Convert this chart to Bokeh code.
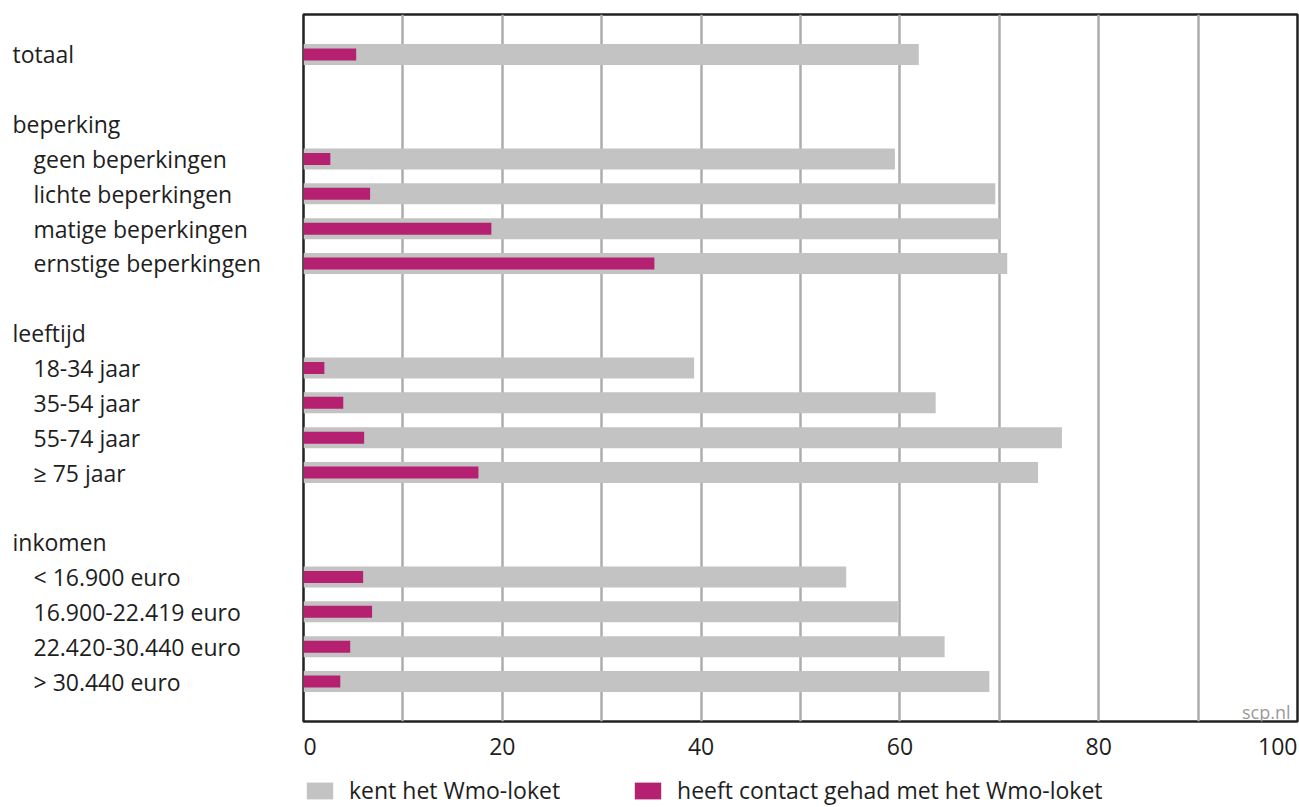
from bokeh.plotting import figure
from bokeh.models import (ColumnDataSource, Range1d, Grid, FixedTicker, Label,
                          Legend, LegendItem)
from bokeh.layouts import column, row
from bokeh.core.properties import value
from bokeh.embed import file_html
from bokeh.resources import INLINE

# ---------------- data ----------------
total_label = "totaal"
total_kent = 61.9
total_contact = 5.3

group_names = ["beperking", "leeftijd", "inkomen"]

beperking_cats = ["geen beperkingen", "lichte beperkingen", "matige beperkingen", "ernstige beperkingen"]
beperking_kent = [59.5, 69.6, 70.1, 70.8]
beperking_contact = [2.7, 6.7, 18.9, 35.3]

leeftijd_cats = ["18-34 jaar", "35-54 jaar", "55-74 jaar", "\u2265 75 jaar"]
leeftijd_kent = [39.3, 63.6, 76.3, 73.9]
leeftijd_contact = [2.1, 4.0, 6.1, 17.6]

inkomen_cats = ["< 16.900 euro", "16.900-22.419 euro", "22.420-30.440 euro", "> 30.440 euro"]
inkomen_kent = [54.6, 59.8, 64.5, 69.0]
inkomen_contact = [6.0, 6.9, 4.7, 3.7]

series_names = ["kent het Wmo-loket", "heeft contact gehad met het Wmo-loket"]
x_ticks = [0, 20, 40, 60, 80, 100]
grid_ticks = [10, 20, 30, 40, 50, 60, 70, 80, 90]
source_note = "scp.nl"

# ---------------- build rows ----------------
groups = [
    (beperking_cats, beperking_kent, beperking_contact),
    (leeftijd_cats, leeftijd_kent, leeftijd_contact),
    (inkomen_cats, inkomen_kent, inkomen_contact),
]

lab_text, lab_y, lab_level = [], [], []
bar_y, bar_kent, bar_contact = [], [], []

i = 0
lab_text.append(total_label); lab_y.append(i); lab_level.append(0)
bar_y.append(i); bar_kent.append(total_kent); bar_contact.append(total_contact)
i += 2
for gname, (cats, kent, contact) in zip(group_names, groups):
    lab_text.append(gname); lab_y.append(i); lab_level.append(0)
    i += 1
    for c, k, ct in zip(cats, kent, contact):
        lab_text.append(c); lab_y.append(i); lab_level.append(1)
        bar_y.append(i); bar_kent.append(k); bar_contact.append(ct)
        i += 1
    i += 1
n_rows = i - 1

GRAY = "#c2c3c2"
MAGENTA = "#b52070"
TEXT = "#1e1e1e"
FONT = "Open Sans"
FS = "23px"

pad = 1.148
y_range = Range1d(n_rows - 1 + pad, -pad)
x_range = Range1d(0, 100)

# ---------------- main plot ----------------
p = figure(width=999, height=723, x_range=x_range, y_range=y_range,
           x_axis_type=None, y_axis_type=None, toolbar_location=None,
           output_backend="svg", min_border_left=3, min_border_right=2,
           min_border_top=14, min_border_bottom=2)
p.outline_line_color = "#222222"
p.outline_line_width = 2.5
p.background_fill_color = "white"
p.add_layout(Grid(dimension=0, ticker=FixedTicker(ticks=grid_ticks),
                  grid_line_color="#adadb0", grid_line_width=2.5))

src = ColumnDataSource(dict(y=bar_y, kent=bar_kent, contact=bar_contact))
p.hbar(y="y", left=0, right="kent", height=0.603, source=src,
       fill_color=GRAY, line_color=None)
p.hbar(y="y", left=0, right="contact", height=0.345, source=src,
       fill_color=MAGENTA, line_color=None)

p.add_layout(Label(x=100, y=n_rows - 1 + pad, text=source_note, text_align="right",
                   text_baseline="alphabetic", x_offset=-7, y_offset=10,
                   text_font=FONT, text_font_size="18px", text_color="#9a9a9a"))

# ---------------- left labels ----------------
left = figure(width=300, height=723, x_range=Range1d(0, 300), y_range=y_range,
              x_axis_type=None, y_axis_type=None, toolbar_location=None,
              output_backend="svg", min_border_left=0, min_border_right=0,
              min_border_top=14, min_border_bottom=2)
left.outline_line_color = None
left.grid.visible = False
lsrc = ColumnDataSource(dict(y=lab_y, text=lab_text,
                             x=[12 if lv == 0 else 33 for lv in lab_level]))
left.text(x="x", y="y", text="text", source=lsrc, text_font=value(FONT),
          text_font_size=FS, text_color=TEXT, text_baseline="middle",
          text_align="left")

# ---------------- bottom: tick labels + legend ----------------
bottom = figure(width=1299, height=84, x_range=x_range, y_range=Range1d(84, 0),
                x_axis_type=None, y_axis_type=None, toolbar_location=None,
                output_backend="svg", min_border_left=303, min_border_right=2,
                min_border_top=0, min_border_bottom=0)
bottom.outline_line_color = None
bottom.grid.visible = False
aligns = ["left"] + ["center"] * (len(x_ticks) - 2) + ["right"]
tsrc = ColumnDataSource(dict(x=x_ticks, y=[23] * len(x_ticks),
                             text=[str(t) for t in x_ticks], align=aligns))
bottom.text(x="x", y="y", text="text", text_align="align", source=tsrc,
            text_font=value(FONT), text_font_size=FS, text_color=TEXT,
            text_baseline="middle")

nan = float("nan")
r_k = bottom.quad(left=[nan], right=[nan], top=[nan], bottom=[nan],
                  fill_color=GRAY, line_color=None)
r_c = bottom.quad(left=[nan], right=[nan], top=[nan], bottom=[nan],
                  fill_color=MAGENTA, line_color=None)
legend = Legend(items=[LegendItem(label=series_names[0], renderers=[r_k]),
                       LegendItem(label=series_names[1], renderers=[r_c])],
                location=(0, 1), orientation="horizontal",
                glyph_width=33, glyph_height=21, label_standoff=13, spacing=71,
                padding=0, margin=0, border_line_color=None,
                background_fill_alpha=0, label_text_font=FONT,
                label_text_font_size=FS, label_text_color=TEXT,
                label_height=21)
bottom.add_layout(legend)

layout = column(row(left, p), bottom)
open("out.html", "w").write(file_html(layout, INLINE))
